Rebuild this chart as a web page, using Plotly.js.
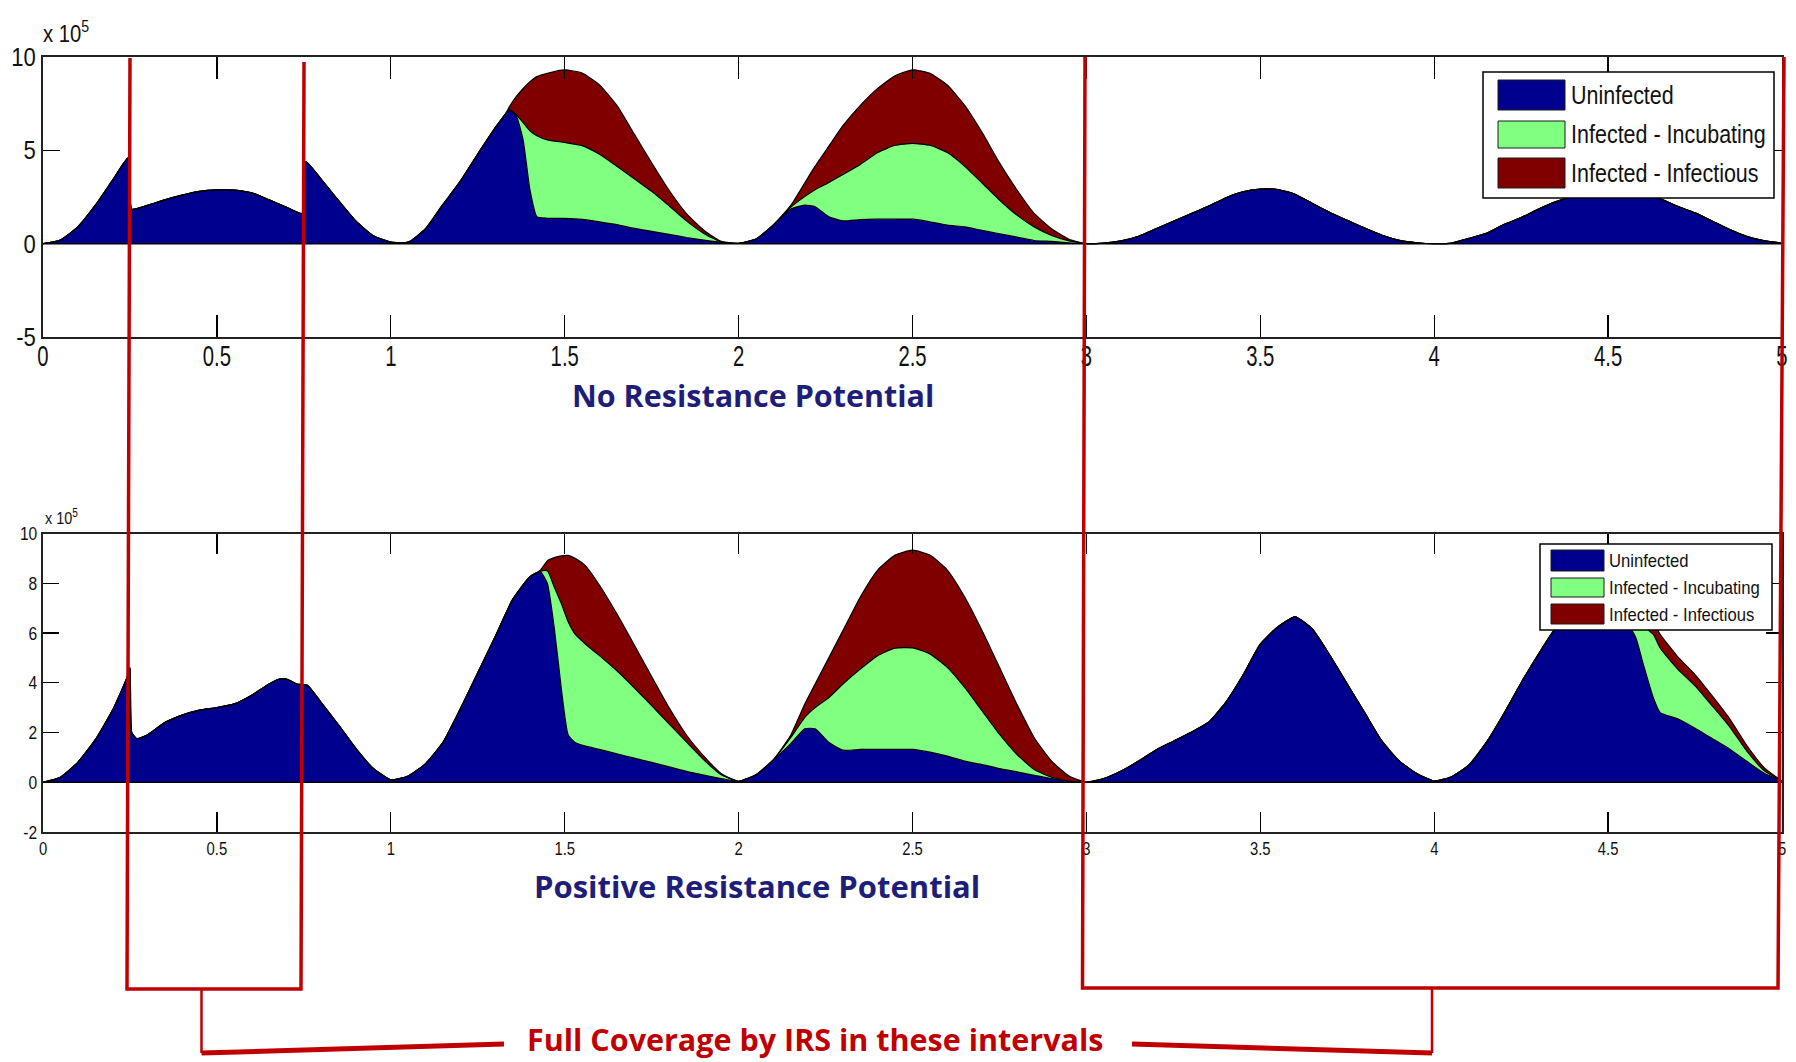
<!DOCTYPE html>
<html>
<head>
<meta charset="utf-8">
<script src="https://cdn.plot.ly/plotly-3.0.1.min.js"></script>
<style>
html,body{margin:0;padding:0;background:#ffffff;}
#chart{width:1796px;height:1062px;}
</style>
</head>
<body>
<div id="chart"></div>
<script>
// ---------------- DATA (values in units of 10^5) ----------------
// Upper panel: "No Resistance Potential"
const timeTop = [
  0, 0.05, 0.1, 0.15, 0.2, 0.245, 0.255, 0.3, 0.35, 0.4, 0.45, 0.5, 0.55, 0.6, 0.65, 0.7, 0.745, 0.755, 0.8, 0.85, 0.9, 0.95, 1.0, 1.05, 1.1, 1.15, 1.2, 1.25, 1.3,
  1.33, 1.34, 1.36, 1.38, 1.4, 1.42, 1.45, 1.5, 1.55, 1.6, 1.65, 1.7, 1.75, 1.8, 1.85, 1.9, 1.95, 2.0,
  2.05, 2.1, 2.15, 2.19, 2.22, 2.26, 2.3, 2.35, 2.4, 2.45, 2.5, 2.55, 2.6, 2.65, 2.7, 2.75, 2.8, 2.85, 2.9, 2.95, 3.0,
  3.05, 3.1, 3.15, 3.2, 3.25, 3.3, 3.35, 3.4, 3.45, 3.5, 3.55, 3.6, 3.65, 3.7, 3.75, 3.8, 3.85, 3.9, 3.95, 4.0,
  4.05, 4.1, 4.15, 4.2, 4.25, 4.3, 4.35, 4.4, 4.45, 4.5, 4.55, 4.6, 4.65, 4.7, 4.75, 4.8, 4.85, 4.9, 4.95, 5.0
];
const topUninfected = [
  0, 0.2, 0.9, 2.05, 3.4, 4.6, 1.85, 2.05, 2.35, 2.6, 2.8, 2.88, 2.87, 2.72, 2.35, 1.95, 1.62, 4.4, 3.45, 2.3, 1.2, 0.42, 0.08, 0.08, 0.8, 2.1, 3.35, 4.8, 6.2,
  6.95, 7.15, 6.87, 5.6, 2.89, 1.44, 1.36, 1.35, 1.3, 1.17, 1.02, 0.82, 0.66, 0.5, 0.33, 0.19, 0.08, 0.02,
  0.25, 1.0, 1.85, 2.07, 1.98, 1.44, 1.22, 1.29, 1.31, 1.31, 1.31, 1.17, 0.99, 0.9, 0.71, 0.53, 0.35, 0.17, 0.12, 0.05, 0,
  0.03, 0.15, 0.4, 0.8, 1.2, 1.6, 2.0, 2.45, 2.78, 2.92, 2.9, 2.65, 2.15, 1.67, 1.25, 0.83, 0.45, 0.18, 0.05, 0,
  0.03, 0.28, 0.55, 1.03, 1.4, 1.85, 2.25, 2.55, 2.82, 2.92, 2.85, 2.62, 2.4, 2.0, 1.65, 1.2, 0.75, 0.38, 0.15, 0.03
];
const topIncubating = [
  0, 0, 0, 0, 0, 0, 0, 0, 0, 0, 0, 0, 0, 0, 0, 0, 0, 0, 0, 0, 0, 0, 0, 0, 0, 0, 0, 0, 0,
  0, 0.05, 0.05, 0.9, 3.16, 4.34, 4.2, 4.07, 3.95, 3.62, 3.13, 2.66, 2.14, 1.53, 0.89, 0.36, 0.02, 0,
  0, 0, 0.1, 0.45, 0.91, 1.84, 2.48, 2.95, 3.57, 3.96, 4.06, 4.1, 3.89, 3.25, 2.54, 1.81, 1.18, 0.73, 0.32, 0.1, 0,
  0, 0, 0, 0, 0, 0, 0, 0, 0, 0, 0, 0, 0, 0, 0, 0, 0, 0, 0, 0,
  0, 0, 0, 0, 0, 0, 0, 0, 0, 0, 0, 0, 0, 0, 0, 0, 0, 0, 0, 0
];
const topInfectious = [
  0, 0, 0, 0, 0, 0, 0, 0, 0, 0, 0, 0, 0, 0, 0, 0, 0, 0, 0, 0, 0, 0, 0, 0, 0, 0, 0, 0, 0,
  0, 0.1, 0.94, 1.8, 2.63, 3.17, 3.57, 3.89, 3.89, 3.71, 3.26, 2.39, 1.53, 0.83, 0.39, 0.17, 0.02, 0,
  0, 0, 0.1, 0.73, 1.26, 1.96, 2.62, 3.17, 3.44, 3.73, 3.94, 3.86, 3.62, 3.26, 2.71, 1.99, 1.36, 0.72, 0.36, 0.09, 0,
  0, 0, 0, 0, 0, 0, 0, 0, 0, 0, 0, 0, 0, 0, 0, 0, 0, 0, 0, 0,
  0, 0, 0, 0, 0, 0, 0, 0, 0, 0, 0, 0, 0, 0, 0, 0, 0, 0, 0, 0
];

// Lower panel: "Positive Resistance Potential"
const timeBottom = [
  0, 0.05, 0.1, 0.15, 0.2, 0.24, 0.25, 0.255, 0.27, 0.3, 0.35, 0.4, 0.45, 0.5, 0.55, 0.6, 0.65, 0.68, 0.7, 0.73, 0.76, 0.8, 0.85, 0.9, 0.95, 1.0, 1.05, 1.1, 1.15, 1.2, 1.25, 1.3, 1.35, 1.4,
  1.43, 1.45, 1.47, 1.49, 1.51, 1.53, 1.56, 1.6, 1.65, 1.7, 1.75, 1.8, 1.85, 1.9, 1.95, 2.0,
  2.05, 2.1, 2.15, 2.19, 2.22, 2.26, 2.3, 2.35, 2.4, 2.45, 2.5, 2.55, 2.6, 2.65, 2.7, 2.75, 2.8, 2.85, 2.9, 2.95, 3.0,
  3.05, 3.1, 3.15, 3.2, 3.25, 3.3, 3.35, 3.4, 3.45, 3.5, 3.55, 3.6, 3.65, 3.7, 3.75, 3.8, 3.85, 3.9, 3.95, 4.0,
  4.05, 4.1, 4.15, 4.2, 4.25, 4.3, 4.35, 4.4, 4.45, 4.5, 4.55, 4.58, 4.6, 4.63, 4.65, 4.7, 4.75, 4.8, 4.85, 4.9, 4.95, 5.0
];
const bottomUninfected = [
  0, 0.2, 0.8, 1.7, 2.9, 4.15, 4.6, 2.0, 1.75, 1.9, 2.4, 2.7, 2.9, 3.0, 3.15, 3.5, 3.95, 4.15, 4.15, 3.95, 3.9, 3.2, 2.3, 1.35, 0.55, 0.1, 0.25, 0.75, 1.6, 2.95, 4.4, 5.85, 7.34, 8.26,
  8.46, 8.0, 6.2, 3.8, 1.9, 1.6, 1.45, 1.32, 1.14, 0.97, 0.8, 0.62, 0.44, 0.29, 0.15, 0.04,
  0.3, 0.9, 1.55, 2.15, 2.15, 1.6, 1.29, 1.32, 1.32, 1.32, 1.32, 1.21, 1.05, 0.85, 0.71, 0.55, 0.42, 0.28, 0.15, 0.05, 0,
  0.15, 0.45, 0.85, 1.3, 1.65, 2.0, 2.4, 3.2, 4.3, 5.55, 6.24, 6.65, 6.15, 5.1, 3.95, 2.8, 1.65, 0.85, 0.35, 0.05,
  0.22, 0.7, 1.6, 2.75, 4.0, 5.15, 6.2, 6.6, 6.85, 6.9, 6.5, 5.8, 4.8, 3.4, 2.8, 2.55, 2.17, 1.75, 1.33, 0.83, 0.35, 0.05
];
const bottomIncubating = [
  0, 0, 0, 0, 0, 0, 0, 0, 0, 0, 0, 0, 0, 0, 0, 0, 0, 0, 0, 0, 0, 0, 0, 0, 0, 0, 0, 0, 0, 0, 0, 0, 0, 0,
  0.02, 0.5, 1.65, 3.4, 4.55, 4.35, 4.1, 3.77, 3.34, 2.83, 2.28, 1.73, 1.18, 0.61, 0.15, 0,
  0, 0, 0.25, 0.45, 0.85, 1.81, 2.66, 3.23, 3.77, 4.07, 4.08, 3.95, 3.57, 2.96, 2.16, 1.38, 0.7, 0.23, 0.05, 0, 0,
  0, 0, 0, 0, 0, 0, 0, 0, 0, 0, 0, 0, 0, 0, 0, 0, 0, 0, 0, 0,
  0, 0, 0, 0, 0, 0, 0, 0, 0, 0.1, 0.5, 1.0, 1.5, 2.54, 2.59, 2.0, 1.71, 1.31, 0.89, 0.4, 0.1, 0
];
const bottomInfectious = [
  0, 0, 0, 0, 0, 0, 0, 0, 0, 0, 0, 0, 0, 0, 0, 0, 0, 0, 0, 0, 0, 0, 0, 0, 0, 0, 0, 0, 0, 0, 0, 0, 0, 0,
  0.05, 0.4, 1.18, 1.9, 2.67, 3.05, 3.15, 2.83, 2.29, 1.72, 1.17, 0.65, 0.28, 0.15, 0.05, 0,
  0, 0, 0.1, 0.54, 0.95, 1.61, 2.15, 2.9, 3.44, 3.74, 3.93, 3.97, 3.91, 3.64, 3.23, 2.69, 2.02, 1.28, 0.65, 0.2, 0,
  0, 0, 0, 0, 0, 0, 0, 0, 0, 0, 0, 0, 0, 0, 0, 0, 0, 0, 0, 0,
  0, 0, 0, 0, 0, 0, 0, 0, 0, 0.05, 0.3, 0.5, 0.55, 0.5, 0.55, 0.5, 0.45, 0.4, 0.32, 0.22, 0.12, 0
];

const seriesNames = ["Uninfected", "Infected - Incubating", "Infected - Infectious"];
const xTickVals = [0, 0.5, 1, 1.5, 2, 2.5, 3, 3.5, 4, 4.5, 5];
const xTickText = ["0", "0.5", "1", "1.5", "2", "2.5", "3", "3.5", "4", "4.5", "5"];
const yTopTickVals = [-5, 0, 5, 10];
const yTopTickText = ["-5", "0", "5", "10"];
const yBottomTickVals = [-2, 0, 2, 4, 6, 8, 10];
const yBottomTickText = ["-2", "0", "2", "4", "6", "8", "10"];
const panelTitles = ["No Resistance Potential", "Positive Resistance Potential"];
const noteText = "Full Coverage by IRS in these intervals";

// ---------------- STYLE ----------------
const COLORS = ["#00008f", "#80ff80", "#800000"];
const NARROW = "Liberation Sans, Arial, sans-serif";
const BOLDFONT = "Open Sans, Lato, sans-serif";
const RED = "#c00000";
const NAVY = "#1e1e7a";
const W = 1796, H = 1062;
const px = x => x / W;
const py = y => 1 - y / H;
const P = (x, y) => px(x).toFixed(5) + "," + py(y).toFixed(5);

// ---------------- TRACES ----------------
function stackTraces(t, series, xa, ya, group) {
  return series.map((vals, i) => ({
    type: "scatter", mode: "lines", x: t, y: vals, name: seriesNames[i],
    xaxis: xa, yaxis: ya, stackgroup: group,
    line: {color: "#000000", width: 1.2, shape: "spline", smoothing: 0.5},
    fillcolor: COLORS[i], showlegend: false, hoverinfo: "x+y+name"
  }));
}
const data = [
  ...stackTraces(timeTop, [topUninfected, topIncubating, topInfectious], "x", "y", "top"),
  ...stackTraces(timeBottom, [bottomUninfected, bottomIncubating, bottomInfectious], "x2", "y2", "bottom")
];

// ---------------- AXES ----------------
const xDomain = [px(43), px(1782)];
function xAxis(anchor, ticklen, fontSize, standoff) {
  return {
    domain: xDomain, anchor: anchor, range: [0, 5], tickmode: "array",
    tickvals: xTickVals, ticktext: xTickText, ticks: "inside", ticklen: ticklen,
    tickwidth: 1.3, tickcolor: "#000", mirror: "ticks", showline: true,
    linecolor: "#222", linewidth: 2, showgrid: false, zeroline: false,
    ticklabelstandoff: standoff,
    tickfont: {family: NARROW, size: fontSize, color: "#111"}, fixedrange: true
  };
}
function yAxis(anchor, domain, range, vals, text, ticklen, fontSize) {
  return {
    domain: domain, anchor: anchor, range: range, tickmode: "array",
    tickvals: vals, ticktext: text, ticks: "inside", ticklen: ticklen,
    tickwidth: 1.3, tickcolor: "#000", mirror: "ticks", showline: true,
    linecolor: "#222", linewidth: 2, showgrid: false, zeroline: false,
    tickfont: {family: NARROW, size: fontSize, color: "#111"}, fixedrange: true
  };
}

// ---------------- SHAPES ----------------
const shapes = [];
shapes.push({type: "line", xref: "x domain", yref: "y", x0: 0, x1: 1, y0: 0, y1: 0, line: {color: "#000", width: 1.5}, layer: "above"});
shapes.push({type: "line", xref: "x2 domain", yref: "y2", x0: 0, x1: 1, y0: 0, y1: 0, line: {color: "#000", width: 1.5}, layer: "above"});

function legendShapes(box, swX, rows) {
  shapes.push({type: "rect", xref: "paper", yref: "paper", x0: px(box[0]), x1: px(box[1]), y0: py(box[3]), y1: py(box[2]),
    fillcolor: "#ffffff", line: {color: "#000", width: 1.5}, layer: "above"});
  rows.forEach((r, i) => shapes.push({type: "rect", xref: "paper", yref: "paper",
    x0: px(swX[0]), x1: px(swX[1]), y0: py(r[1]), y1: py(r[0]),
    fillcolor: COLORS[i], line: {color: "#1a1a1a", width: 1}, layer: "above"}));
}
legendShapes([1483, 1774, 72, 198], [1498, 1565], [[80, 110], [121, 148], [158, 188]]);
legendShapes([1540, 1772, 544, 630], [1551, 1604], [[550, 571], [578, 597], [604, 624]]);

function redPath(pts, width) {
  shapes.push({type: "path", xref: "paper", yref: "paper",
    path: "M" + pts.map(p => P(p[0], p[1])).join(" L"),
    line: {color: RED, width: width}, layer: "above"});
}
redPath([[130, 58], [127, 989], [301, 989], [304, 62]], 3.5);
redPath([[1085, 57], [1082.5, 988], [1778, 988], [1784, 57]], 3.5);
redPath([[201.5, 990], [201.5, 1053]], 2.5);
redPath([[201.5, 1053], [504, 1044]], 5);
redPath([[1132, 1044], [1432, 1053]], 5);
redPath([[1432, 1053], [1432, 989]], 2.5);

// ---------------- ANNOTATIONS ----------------
const annotations = [];
const squeezeAnn = {};   // annotation index -> horizontal squeeze factor
function txt(x, y, text, font, xanchor, yanchor, squeeze) {
  if (squeeze) squeezeAnn[annotations.length] = squeeze;
  annotations.push({xref: "paper", yref: "paper", x: px(x), y: py(y), text: text, showarrow: false,
    xanchor: xanchor || "left", yanchor: yanchor || "middle", font: font, borderpad: 0});
}
txt(42, 48, "x 10<sup>5</sup>", {family: NARROW, size: 23, color: "#111"}, "left", "bottom", 0.88);
txt(44, 529, "x 10<sup>5</sup>", {family: NARROW, size: 17, color: "#111"}, "left", "bottom", 0.85);
txt(753, 395, "<b>" + panelTitles[0] + "</b>", {family: BOLDFONT, size: 30.5, color: NAVY}, "center", "middle");
txt(757, 886, "<b>" + panelTitles[1] + "</b>", {family: BOLDFONT, size: 31, color: NAVY}, "center", "middle");
txt(815, 1061, "<b>" + noteText + "</b>", {family: BOLDFONT, size: 30.5, color: RED}, "center", "bottom");
[95, 134.5, 173].forEach((y, i) => txt(1570, y, seriesNames[i], {family: NARROW, size: 25, color: "#111"}, "left", "middle", 0.86));
[560.5, 587.5, 614].forEach((y, i) => txt(1608, y, seriesNames[i], {family: NARROW, size: 18.5, color: "#111"}, "left", "middle", 0.9));

const layout = {
  width: W, height: H, margin: {l: 0, r: 0, t: 0, b: 0},
  paper_bgcolor: "#ffffff", plot_bgcolor: "rgba(0,0,0,0)", showlegend: false,
  xaxis: xAxis("y", 22, 29, -8),
  yaxis: yAxis("x", [py(337), py(57)], [-5, 10], yTopTickVals, yTopTickText, 17, 26),
  xaxis2: xAxis("y2", 20, 19, -2),
  yaxis2: yAxis("x2", [py(832), py(533.5)], [-2, 10], yBottomTickVals, yBottomTickText, 16, 19),
  shapes: shapes, annotations: annotations
};

// horizontally condense text (MATLAB-like narrow glyphs), keeping it real text
function squeezeText(el, s, anchor) {
  const bb = el.getBBox();
  const cx = anchor === "start" ? bb.x : anchor === "end" ? bb.x + bb.width : bb.x + bb.width / 2;
  const t = el.getAttribute("transform") || "";
  el.setAttribute("transform", t + " translate(" + cx + ",0) scale(" + s + ",1) translate(" + (-cx) + ",0)");
}

Plotly.newPlot("chart", data, layout, {displayModeBar: false, staticPlot: true}).then(gd => {
  gd.querySelectorAll("g.xtick text").forEach(el => squeezeText(el, 0.7, "middle"));
  gd.querySelectorAll("g.ytick text").forEach(el => squeezeText(el, 0.85, "end"));
  gd.querySelectorAll("g.x2tick text").forEach(el => squeezeText(el, 0.78, "middle"));
  gd.querySelectorAll("g.y2tick text").forEach(el => squeezeText(el, 0.82, "end"));
  gd.querySelectorAll("g.annotation").forEach(g => {
    const idx = g.getAttribute("data-index");
    if (squeezeAnn[idx]) {
      const el = g.querySelector("text.annotation-text");
      if (el) squeezeText(el, squeezeAnn[idx], "start");
    }
  });
  // drop empty placeholder texts (unused axis titles)
  gd.querySelectorAll("text").forEach(el => { if (!el.textContent.trim()) el.remove(); });
});
</script>
</body>
</html>
